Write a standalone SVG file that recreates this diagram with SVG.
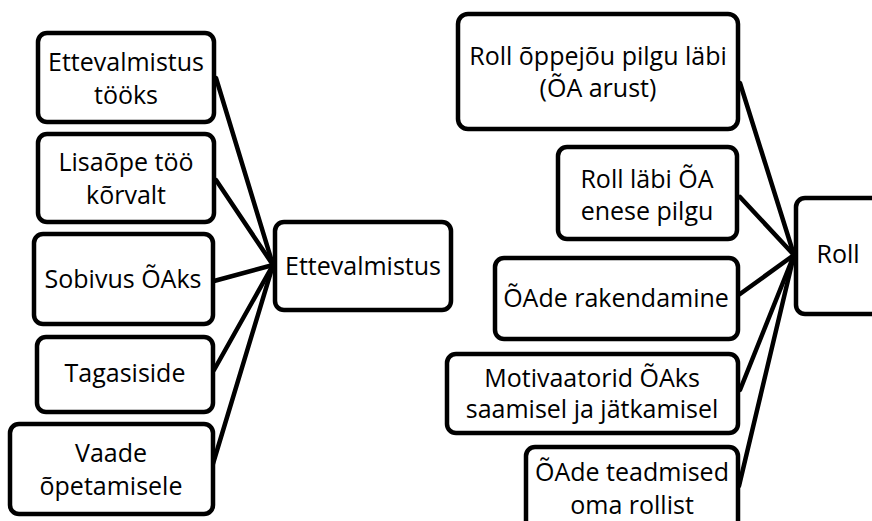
<svg xmlns="http://www.w3.org/2000/svg" width="872" height="521" viewBox="0 0 872 521">
<style>
.box{fill:#fff;stroke:#000;stroke-width:4.5}
.t{font-family:"Open Sans","Liberation Sans",sans-serif;font-size:25px;fill:#000;text-anchor:middle}
.c line{stroke:#000;stroke-width:4.5;stroke-linecap:round}
</style>
<rect width="872" height="521" fill="#fff"/>
<g class="c" id="connectors">
<line x1="216" y1="78" x2="273" y2="265"/>
<line x1="216" y1="180" x2="273" y2="265"/>
<line x1="214" y1="281" x2="273" y2="265"/>
<line x1="214" y1="370" x2="273" y2="265"/>
<line x1="212" y1="467" x2="273" y2="265"/>
<line x1="740" y1="83" x2="794" y2="255"/>
<line x1="740" y1="197" x2="794" y2="255"/>
<line x1="740" y1="294" x2="794" y2="255"/>
<line x1="740" y1="390" x2="794" y2="255"/>
<line x1="739" y1="486" x2="794" y2="255"/>
</g>
<g id="n1"><rect class="box" x="38" y="33" width="176" height="89" rx="9"/><text class="t" x="126" y="71">Ettevalmistus</text><text class="t" x="126" y="104">tööks</text></g>
<g id="n2"><rect class="box" x="38" y="134" width="176" height="88" rx="9"/><text class="t" x="126" y="171">Lisaõpe töö</text><text class="t" x="126" y="204">kõrvalt</text></g>
<g id="n3"><rect class="box" x="34" y="234" width="179" height="90" rx="9"/><text class="t" x="123" y="288">Sobivus ÕAks</text></g>
<g id="n4"><rect class="box" x="37" y="337" width="176" height="75" rx="9"/><text class="t" x="125" y="382">Tagasiside</text></g>
<g id="n5"><rect class="box" x="10" y="424" width="203" height="90" rx="9"/><text class="t" x="111" y="462">Vaade</text><text class="t" x="111" y="495">õpetamisele</text></g>
<g id="n6"><rect class="box" x="275" y="222" width="176" height="88" rx="9"/><text class="t" x="363" y="275">Ettevalmistus</text></g>
<g id="n7"><rect class="box" x="458" y="14" width="280" height="115" rx="10"/><text class="t" x="598" y="65">Roll õppejõu pilgu läbi</text><text class="t" x="598" y="97">(ÕA arust)</text></g>
<g id="n8"><rect class="box" x="558" y="147" width="179" height="92" rx="9"/><text class="t" x="647" y="188">Roll läbi ÕA</text><text class="t" x="647" y="220">enese pilgu</text></g>
<g id="n9"><rect class="box" x="495" y="258" width="243" height="81" rx="9"/><text class="t" x="616" y="307">ÕAde rakendamine</text></g>
<g id="n10"><rect class="box" x="447" y="354" width="291" height="79" rx="9"/><text class="t" x="592" y="387">Motivaatorid ÕAks</text><text class="t" x="592" y="418">saamisel ja jätkamisel</text></g>
<g id="n11"><rect class="box" x="526" y="447" width="212" height="90" rx="9"/><text class="t" x="632" y="481">ÕAde teadmised</text><text class="t" x="632" y="514">oma rollist</text></g>
<g id="n12"><rect class="box" x="796" y="198" width="86" height="116" rx="9"/><text class="t" x="838" y="263">Roll</text></g>
</svg>
